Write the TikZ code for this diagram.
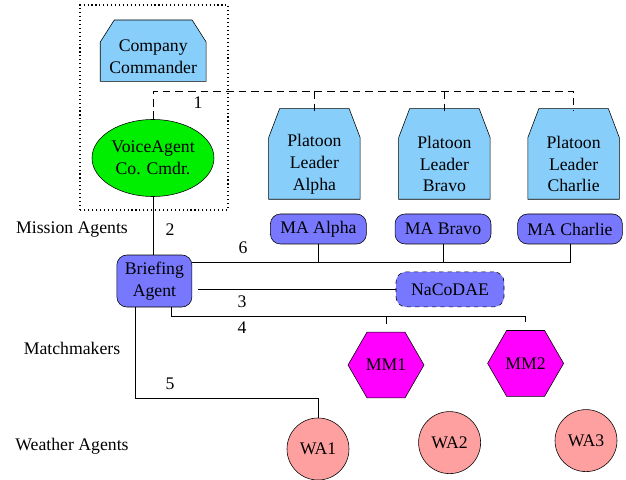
\documentclass[tikz,border=0pt]{standalone}
\usepackage{xcolor}
\usepackage{fontspec}
\setmainfont{Liberation Serif}
\usepackage{tikz}
\usetikzlibrary{shapes}
\usetikzlibrary{shapes.geometric}
\usetikzlibrary{positioning}
\usetikzlibrary{backgrounds}
\definecolor{leaderblue}{RGB}{135,206,250}
\definecolor{agentblue}{RGB}{120,120,255}
\definecolor{voicegreen}{RGB}{0,238,0}
\definecolor{wapink}{RGB}{255,160,160}
\definecolor{mmpink}{RGB}{255,0,255}
\tikzset{>=latex}
\tikzstyle{leader} = [rectangle, draw = none, align = center, inner sep = 0]
\tikzstyle{agent} = [rectangle, rounded corners = .25cm, draw, fill = agentblue, align = center, inner xsep = 7pt]
\tikzstyle{mm} = [regular polygon, regular polygon sides = 6, draw, fill = mmpink, minimum size = 1.9cm, inner sep = 0]
\tikzstyle{wa} = [circle, draw, fill = wapink, minimum size = 1.55cm, inner sep = 0]
\tikzstyle{lbl} = [draw = none, inner sep = 1]
\tikzstyle{dashlink} = [dash pattern = on 5.5pt off 3.5pt]
% box with cut top corners behind a leader node: name, xsep, ysep, raise of top
\newcommand{\leaderbox}[4]{%
\begin{pgfonlayer}{background}
\draw [fill = leaderblue] (#1.south west) -- (#1.south east)
  -- ([yshift = #4cm - #3cm]#1.north east) -- ([xshift = -#2cm, yshift = #4cm]#1.north east)
  -- ([xshift = #2cm, yshift = #4cm]#1.north west) -- ([yshift = #4cm - #3cm]#1.north west) -- cycle;
\end{pgfonlayer}}

\begin{document}
\begin{tikzpicture}[line width = .6pt, font = \fontsize{12.6}{15.6}\selectfont]
\useasboundingbox (0, 0) rectangle (15.65, 11.975);
% company level
\draw [dotted, line width = .8pt] (2.0, 6.725) rectangle (5.7, 11.85);
\node [leader, minimum width = 2.625cm, minimum height = 1.225cm] (CC) at (3.83, 10.5625) {Company\\Commander};
\leaderbox{CC}{.35}{.55}{.29}
\node [ellipse, draw, fill = voicegreen, minimum width = 3.05cm, minimum height = 1.925cm, inner sep = 0, align = center] (VA) at (3.825, 8.025) {VoiceAgent\\Co. Cmdr.};
\node [leader, minimum width = 2.275cm, minimum height = 1.75cm] (PLA) at (7.86, 7.875) {Platoon\\Leader\\Alpha};
\node [leader, minimum width = 2.275cm, minimum height = 1.75cm] (PLB) at (11.11, 7.875) {Platoon\\Leader\\Bravo};
\node [leader, minimum width = 2.275cm, minimum height = 1.75cm] (PLC) at (14.34, 7.875) {Platoon\\Leader\\Charlie};
\leaderbox{PLA}{.275}{.725}{.5}
\leaderbox{PLB}{.275}{.725}{.5}
\leaderbox{PLC}{.275}{.725}{.5}

% row labels
\node [lbl] (rowMA) at (1.8, 6.225) {Mission Agents};
\node [lbl] (rowMM) at (1.8, 3.275) {Matchmakers};
\node [lbl] (rowWA) at (1.8, 0.825) {Weather Agents};

% agents
\node [agent, minimum height = .75cm] (MAA) at (7.96, 6.25) {MA Alpha};
\node [agent, minimum height = .75cm] (MAB) at (11.075, 6.25) {MA Bravo};
\node [agent, minimum height = .75cm] (MAC) at (14.25, 6.25) {MA Charlie};
\node [agent, minimum width = 1.875cm, minimum height = 1.3cm, inner xsep = 2pt] (BA) at (3.86, 4.95) {Briefing\\Agent};
\node [agent, dashed, minimum width = 2.7cm, minimum height = .875cm] (NA) at (11.25, 4.74) {NaCoDAE};
\node [mm] (MM1) at (9.65, 2.85) {MM1};
\node [mm] (MM2) at (13.14, 2.89) {MM2};
\node [wa] (WA1) at (7.95, 0.75) {WA1};
\node [wa] (WA2) at (11.24, 0.91) {WA2};
\node [wa] (WA3) at (14.65, 0.96) {WA3};

% buses
\coordinate (bus1) at (0, 9.7);
\coordinate (bus6) at (0, 5.425);
\coordinate (start3) at (4.95, 4.74);
\coordinate (bus4) at (4.275, 4.075);
\coordinate (bus5) at (3.375, 2.025);

% 1
\draw [dashlink] (VA.north) |- (PLC.north |- bus1) -- ([yshift = .45cm]PLC.north);
\draw [dashlink] (PLA.north |- bus1) -- ([yshift = .45cm]PLA.north);
\draw [dashlink] (PLB.north |- bus1) -- ([yshift = .45cm]PLB.north);
% 2
\draw (VA.south) -- (VA.south |- BA.north);
% 6
\draw (BA.east |- bus6) -| (MAC.south);
\draw (MAA.south) -- (MAA.south |- bus6);
\draw (MAB.south) -- (MAB.south |- bus6);
% 3
\draw (start3) -- (NA.west);
% 4
\draw [shorten > = .2cm] (BA.south -| bus4) |- (bus4 -| MM2.north) -- (MM2.north);
\draw [shorten > = .2cm] (bus4 -| MM1.north) -- (MM1.north);
% 5
\draw (BA.south -| bus5) |- (bus5 -| WA1.north) -- (WA1.north);

\node [lbl] (n1) at (4.95, 9.40) {1};
\node [lbl] (n2) at (4.25, 6.225) {2};
\node [lbl] (n6) at (6.075, 5.775) {6};
\node [lbl] (n3) at (6.05, 4.425) {3};
\node [lbl] (n4) at (6.05, 3.775) {4};
\node [lbl] (n5) at (4.25, 2.375) {5};
\end{tikzpicture}
\end{document}
